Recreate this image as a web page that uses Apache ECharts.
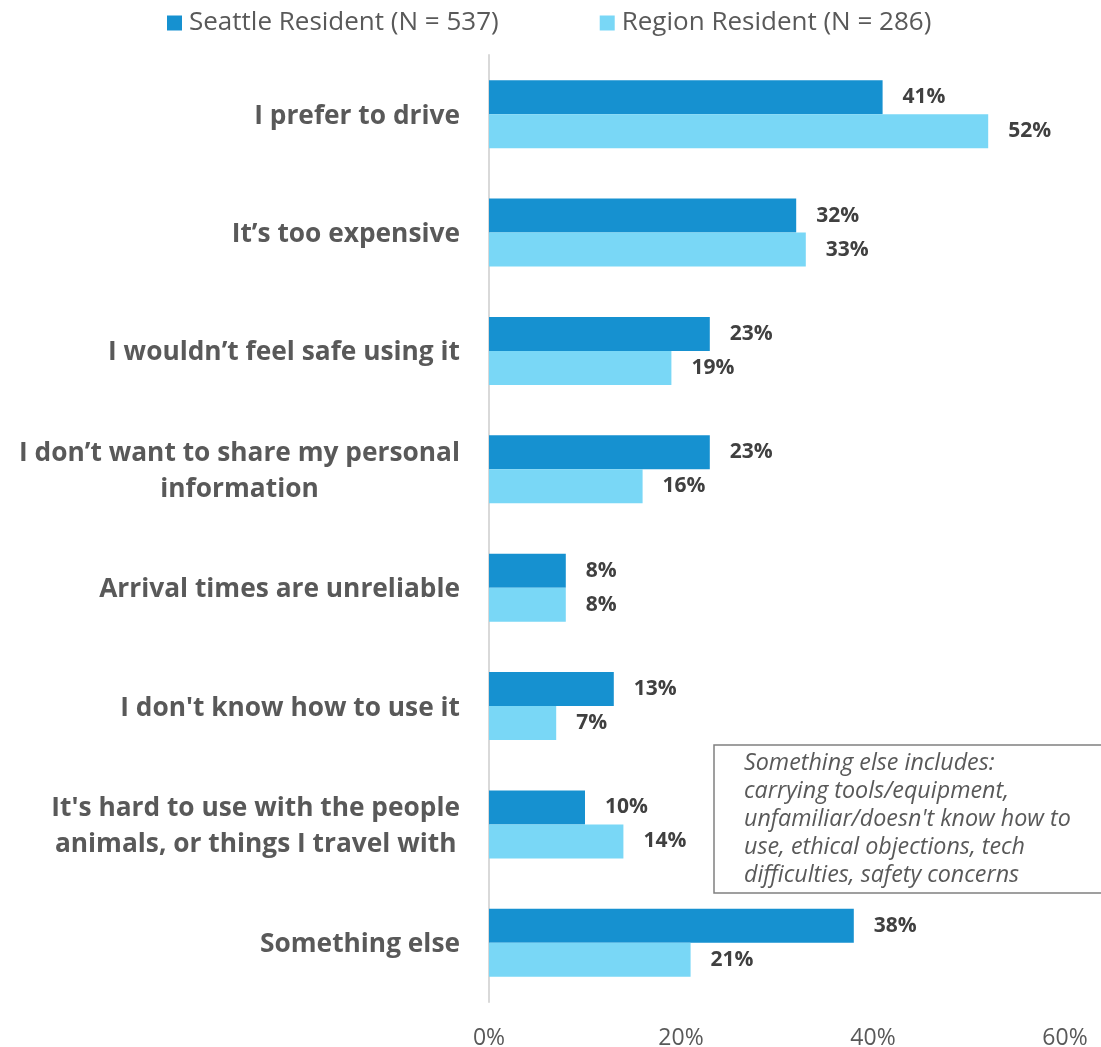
<!DOCTYPE html>
<html><head><meta charset="utf-8">
<style>html,body{margin:0;padding:0;background:#fff}#c{width:1101px;height:1047px}</style>
<script src="https://cdn.jsdelivr.net/npm/echarts@6/dist/echarts.min.js"></script>
</head><body><div id="c"></div>
<script>
const categories = [
  "I prefer to drive",
  "It’s too expensive",
  "I wouldn’t feel safe using it",
  "I don’t want to share my personal\ninformation",
  "Arrival times are unreliable",
  "I don't know how to use it",
  "It's hard to use with the people\nanimals, or things I travel with",
  "Something else"
];
const seattle = [41, 32, 23, 23, 8, 13, 10, 38];
const region = [52, 33, 19, 16, 8, 7, 14, 21];
const seriesNames = ["Seattle Resident (N = 537)", "Region Resident (N = 286)"];
const xTicks = [0, 20, 40, 60];
const noteLines = [
  "Something else includes:",
  "carrying tools/equipment,",
  "unfamiliar/doesn't know how to",
  "use, ethical objections, tech",
  "difficulties, safety concerns"
];

const FONT = '"Open Sans", "Noto Sans", sans-serif';
const chart = echarts.init(document.getElementById('c'), null, {renderer: 'canvas'});
const labelStyle = {
  show: true, position: 'right', distance: 20,
  formatter: p => p.value + '%',
  fontFamily: FONT, fontWeight: 'bold', fontSize: 21, color: '#404040'
};
chart.setOption({
  animation: false,
  legend: {
    top: 5, left: 162, itemWidth: 15, itemHeight: 15, itemGap: 101,
    icon: 'rect',
    textStyle: {fontFamily: FONT, fontSize: 26, color: '#595959', padding: [0,0,0,2]},
    data: seriesNames
  },
  grid: {left: 489, top: 55, width: 576, height: 947, containLabel: false, outerBoundsMode: 'none'},
  xAxis: {
    type: 'value', min: xTicks[0], max: xTicks[xTicks.length-1], interval: 20,
    axisLine: {show: false}, axisTick: {show: false}, splitLine: {show: false},
    axisLabel: {formatter: '{value}%', fontFamily: FONT, fontSize: 23, color: '#595959', margin: 25}
  },
  yAxis: {
    type: 'category', data: categories, inverse: true,
    axisLine: {show: true, lineStyle: {color: '#d9d9d9', width: 2}},
    axisTick: {show: false},
    axisLabel: {
      margin: 29, align: 'right', padding: [4, 0, 0, 0],
      formatter: v => v.split('\n').map(s => '{c|' + s + '}').join('\n'),
      rich: {c: {align: 'center', fontFamily: FONT, fontWeight: 'bold', fontSize: 26.3, color: '#595959', lineHeight: 36}}
    }
  },
  series: [
    {name: seriesNames[0], type: 'bar', data: seattle, barGap: '0%', barCategoryGap: '42.6%',
     itemStyle: {color: '#1691D0'}, label: labelStyle},
    {name: seriesNames[1], type: 'bar', data: region, barGap: '0%', barCategoryGap: '42.6%',
     itemStyle: {color: '#79D7F6'}, label: labelStyle}
  ],
  graphic: [
    {type: 'rect', shape: {x: 714, y: 745, width: 400, height: 148},
     style: {fill: '#fff', stroke: '#808080', lineWidth: 1.5}, z: 10},
    {type: 'text', left: 744, top: 749, z: 11,
     style: {text: noteLines.join('\n'), fontFamily: FONT, fontStyle: 'italic', fontSize: 23.3,
             fill: '#595959', lineHeight: 28}}
  ]
});
</script></body></html>
